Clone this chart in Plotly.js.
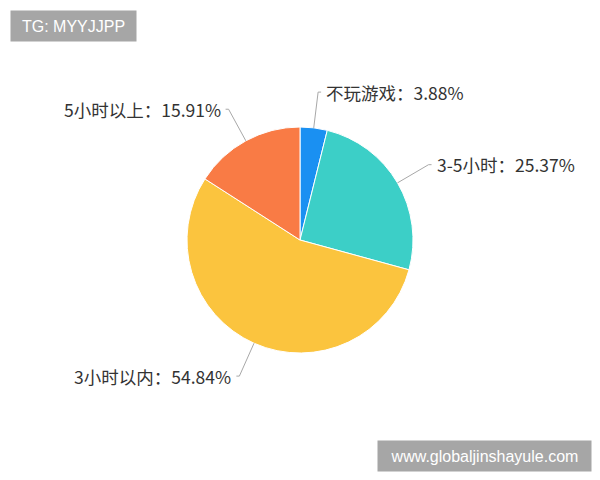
<!DOCTYPE html>
<html>
<head>
<meta charset="utf-8">
<script src="https://cdn.plot.ly/plotly-3.0.1.min.js"></script>
<style>
html, body { margin: 0; padding: 0; background: #fff; }
#chart { width: 600px; height: 480px; }
</style>
</head>
<body>
<div id="chart"></div>
<script>
// slices, clockwise from 12 o'clock
const labels = ['不玩游戏', '3-5小时', '3小时以内', '5小时以上'];
const values = [3.88, 25.37, 54.84, 15.91];
const colors = ['#1a90f2', '#3ccfc7', '#fbc43e', '#f97b45'];

const W = 600, H = 480;
const CX = 300, CY = 240, R = 113;   // pie centre / radius in px
const L1 = 36, L2 = 3;               // leader line lengths

const px = x => x / W;
const py = y => 1 - y / H;

const total = values.reduce((a, b) => a + b, 0);

const shapes = [];
const annotations = [];

let acc = 0;
values.forEach((v, i) => {
	const mid = (acc + v / 2) / total * 2 * Math.PI;
	acc += v;
	const sx = Math.sin(mid), sy = -Math.cos(mid);
	const p0 = [CX + R * sx, CY + R * sy];
	const p1 = [CX + (R + L1) * sx, CY + (R + L1) * sy];
	const right = sx >= 0;
	const p2 = [p1[0] + (right ? L2 : -L2), p1[1]];

	shapes.push({
		type: 'path', xref: 'paper', yref: 'paper',
		path: `M${px(p0[0])},${py(p0[1])} L${px(p1[0])},${py(p1[1])} L${px(p2[0])},${py(p2[1])}`,
		line: { color: '#a8a8a8', width: 1 }
	});
	annotations.push({
		xref: 'paper', yref: 'paper',
		x: px(p2[0] + (right ? 3 : -3)), y: py(p2[1]),
		xanchor: right ? 'left' : 'right', yanchor: 'middle',
		text: `${labels[i]}：${v.toFixed(2)}%`,
		showarrow: false,
		font: { family: '"Noto Sans CJK SC", "Noto Sans", sans-serif', size: 17.5, color: '#333' }
	});
});

// watermarks
const wmFont = { family: 'Arial, "Liberation Sans", sans-serif', size: 16, color: '#fff' };
annotations.push({
	xref: 'paper', yref: 'paper', x: px(10), y: py(10),
	xanchor: 'left', yanchor: 'top', showarrow: false,
	text: 'TG: MYYJJPP', font: wmFont,
	bgcolor: '#a6a6a6', width: 119, height: 24, borderpad: 3, align: 'center'
});
annotations.push({
	xref: 'paper', yref: 'paper', x: px(377), y: py(440),
	xanchor: 'left', yanchor: 'top', showarrow: false,
	text: 'www.globaljinshayule.com', font: wmFont,
	bgcolor: '#a6a6a6', width: 207, height: 24, borderpad: 3, align: 'center'
});

const trace = {
	type: 'pie',
	labels: labels,
	values: values,
	sort: false,
	direction: 'clockwise',
	rotation: 0,
	textinfo: 'none',
	hoverinfo: 'none',
	marker: { colors: colors, line: { color: '#fff', width: 1 } },
	domain: { x: [px(CX - R), px(CX + R)], y: [py(CY + R), py(CY - R)] }
};

const layout = {
	width: W, height: H,
	margin: { l: 0, r: 0, t: 0, b: 0 },
	showlegend: false,
	paper_bgcolor: '#fff',
	shapes, annotations
};

Plotly.newPlot('chart', [trace], layout, { displayModeBar: false, staticPlot: true });
</script>
</body>
</html>
